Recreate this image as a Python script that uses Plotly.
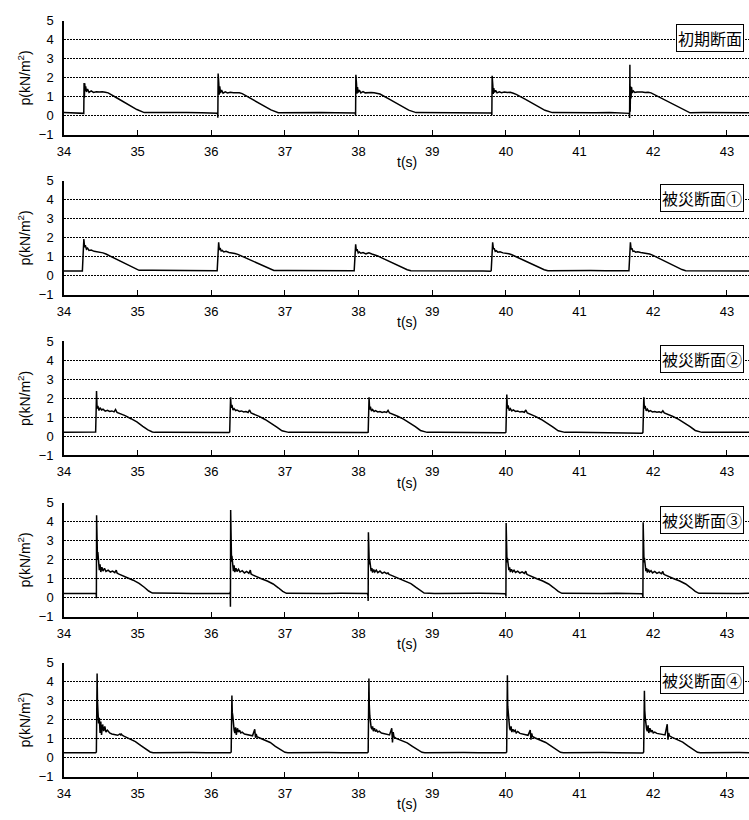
import plotly.graph_objects as go

# ---------------- data ----------------
x_range = [34.0, 43.3]
x_ticks = [34, 35, 36, 37, 38, 39, 40, 41, 42, 43]
y_ticks = [-1, 0, 1, 2, 3, 4, 5]
panel_labels = ["初期断面", "被災断面①", "被災断面②", "被災断面③", "被災断面④"]

# Panel 1 : 初期断面
p1_start = [34.0, 0.16]
p1_onsets = [34.27, 36.09, 37.96, 39.81, 41.68]
p1_rel_t = [-0.005, -0.001, 0.003, 0.007, 0.012, 0.018, 0.025, 0.035, 0.05, 0.07, 0.1, 0.13,
            0.17, 0.21, 0.25, 0.29, 0.33, 0.45, 0.6, 0.72, 0.82, 1.0, 1.2, 1.4, 1.6, 1.75]
p1_values = [
    [0.14, 0.12, 1.72, 0.95, 1.70, 1.30, 1.55, 1.25, 1.40, 1.22, 1.30, 1.22, 1.26, 1.24, 1.26, 1.23, 1.20, 0.93, 0.59, 0.32, 0.16, 0.17, 0.15, 0.16, 0.15, 0.14],
    [0.13, -0.11, 2.22, 0.30, 1.70, 1.10, 1.55, 1.20, 1.35, 1.18, 1.25, 1.20, 1.23, 1.21, 1.22, 1.20, 1.16, 0.90, 0.56, 0.30, 0.15, 0.16, 0.15, 0.17, 0.15, 0.14],
    [0.14, 0.00, 2.15, 0.40, 1.65, 1.15, 1.50, 1.22, 1.35, 1.20, 1.27, 1.20, 1.23, 1.22, 1.21, 1.19, 1.14, 0.88, 0.55, 0.29, 0.16, 0.16, 0.15, 0.17, 0.15, 0.14],
    [0.14, 0.02, 2.10, 0.50, 1.60, 1.15, 1.45, 1.22, 1.33, 1.20, 1.25, 1.21, 1.24, 1.22, 1.23, 1.18, 1.12, 0.87, 0.54, 0.28, 0.16, 0.15, 0.16, 0.15, 0.16, 0.14],
    [0.12, -0.12, 2.68, 0.20, 1.55, 0.90, 1.50, 1.20, 1.30, 1.22, 1.25, 1.23, 1.24, 1.22, 1.23, 1.20, 1.12, 0.88, 0.58, 0.34, 0.15, 0.16, 0.15, 0.16, 0.15, 0.15],
]

# Panel 2 : 被災断面①
p2_start = [34.0, 0.24]
p2_onsets = [34.25, 36.08, 37.94, 39.80, 41.67]
p2_rel_t = [-0.01, 0.0, 0.01, 0.02, 0.03, 0.04, 0.055, 0.07, 0.09, 0.12, 0.16, 0.2, 0.24,
            0.28, 0.32, 0.36, 0.45, 0.55, 0.65, 0.72, 0.77, 0.95, 1.15, 1.35, 1.55, 1.75]
p2_values = [
    [0.22, 0.25, 1.10, 1.93, 1.50, 1.60, 1.40, 1.45, 1.33, 1.35, 1.28, 1.26, 1.22, 1.20, 1.14, 1.06, 0.90, 0.70, 0.50, 0.36, 0.28, 0.28, 0.27, 0.28, 0.26, 0.25],
    [0.23, 0.26, 1.00, 1.76, 1.35, 1.45, 1.30, 1.33, 1.25, 1.28, 1.22, 1.20, 1.17, 1.12, 1.05, 0.98, 0.82, 0.62, 0.44, 0.32, 0.27, 0.27, 0.26, 0.27, 0.26, 0.24],
    [0.23, 0.26, 0.95, 1.65, 1.30, 1.40, 1.20, 1.25, 1.18, 1.22, 1.15, 1.20, 1.14, 1.10, 1.04, 0.96, 0.80, 0.60, 0.43, 0.31, 0.26, 0.26, 0.27, 0.26, 0.25, 0.24],
    [0.23, 0.26, 1.00, 1.76, 1.40, 1.45, 1.28, 1.32, 1.24, 1.26, 1.20, 1.18, 1.15, 1.10, 1.03, 0.96, 0.80, 0.60, 0.43, 0.31, 0.26, 0.27, 0.26, 0.27, 0.26, 0.24],
    [0.23, 0.26, 1.00, 1.76, 1.38, 1.45, 1.28, 1.30, 1.24, 1.26, 1.22, 1.20, 1.18, 1.14, 1.08, 1.00, 0.84, 0.64, 0.45, 0.32, 0.26, 0.26, 0.27, 0.26, 0.26, 0.25],
]

# Panel 3 : 被災断面②
p3_start = [34.0, 0.20]
p3_onsets = [34.43, 36.25, 38.13, 40.00, 41.86]
p3_rel_t = [-0.01, 0.0, 0.006, 0.012, 0.02, 0.03, 0.045, 0.06, 0.08, 0.1, 0.13, 0.16, 0.19, 0.22,
            0.25, 0.27, 0.29, 0.33, 0.4, 0.48, 0.56, 0.64, 0.71, 0.77, 0.8, 0.95, 1.15, 1.35, 1.55, 1.75]
p3_values = [
    [0.20, 0.22, 1.20, 2.38, 1.45, 1.60, 1.35, 1.50, 1.38, 1.42, 1.32, 1.36, 1.30, 1.33, 1.28, 1.40, 1.25, 1.20, 1.08, 0.92, 0.75, 0.52, 0.33, 0.22, 0.20, 0.21, 0.20, 0.21, 0.20, 0.20],
    [0.19, 0.22, 1.10, 2.05, 1.50, 1.65, 1.38, 1.45, 1.35, 1.38, 1.30, 1.33, 1.28, 1.30, 1.25, 1.38, 1.22, 1.16, 1.04, 0.88, 0.70, 0.48, 0.28, 0.20, 0.20, 0.21, 0.20, 0.21, 0.20, 0.19],
    [0.19, 0.21, 1.00, 2.05, 1.40, 1.55, 1.32, 1.40, 1.30, 1.35, 1.28, 1.30, 1.25, 1.28, 1.25, 1.36, 1.22, 1.17, 1.05, 0.90, 0.72, 0.50, 0.30, 0.21, 0.20, 0.21, 0.20, 0.20, 0.21, 0.19],
    [0.18, 0.21, 1.10, 2.20, 1.45, 1.62, 1.35, 1.45, 1.33, 1.38, 1.30, 1.33, 1.27, 1.30, 1.26, 1.38, 1.22, 1.16, 1.04, 0.88, 0.70, 0.48, 0.28, 0.20, 0.20, 0.21, 0.20, 0.21, 0.20, 0.19],
    [0.16, 0.20, 1.05, 2.05, 1.45, 1.60, 1.33, 1.42, 1.30, 1.35, 1.28, 1.30, 1.26, 1.28, 1.24, 1.34, 1.22, 1.17, 1.05, 0.90, 0.72, 0.50, 0.30, 0.21, 0.20, 0.21, 0.20, 0.21, 0.20, 0.20],
]

# Panel 4 : 被災断面③
p4_start = [34.0, 0.22]
p4_onsets = [34.44, 36.26, 38.13, 40.00, 41.86]
p4_rel_t = [-0.01, -0.002, 0.0, 0.003, 0.006, 0.01, 0.015, 0.02, 0.03, 0.04, 0.05, 0.06, 0.075, 0.09,
            0.11, 0.13, 0.16, 0.19, 0.22, 0.25, 0.27, 0.28, 0.3, 0.35, 0.42, 0.5, 0.58, 0.65, 0.71,
            0.76, 0.9, 1.1, 1.3, 1.5, 1.75]
p4_values = [
    [0.22, 0.18, -0.03, 4.34, 2.60, 3.35, 2.00, 2.40, 1.70, 1.45, 1.75, 1.35, 1.60, 1.40, 1.55, 1.38, 1.45, 1.35, 1.40, 1.32, 1.45, 1.30, 1.25, 1.15, 1.05, 0.92, 0.75, 0.55, 0.35, 0.24, 0.22, 0.23, 0.22, 0.23, 0.22],
    [0.22, 0.30, -0.48, 4.62, 2.40, 3.00, 1.90, 2.20, 1.60, 1.40, 1.70, 1.35, 1.55, 1.38, 1.50, 1.35, 1.42, 1.30, 1.38, 1.28, 1.45, 1.25, 1.20, 1.10, 1.00, 0.88, 0.72, 0.52, 0.33, 0.23, 0.22, 0.23, 0.22, 0.23, 0.22],
    [0.22, 0.10, -0.17, 3.45, 2.10, 2.60, 1.75, 2.00, 1.60, 1.40, 1.55, 1.32, 1.48, 1.35, 1.45, 1.32, 1.40, 1.28, 1.35, 1.27, 1.30, 1.24, 1.20, 1.12, 1.02, 0.90, 0.74, 0.54, 0.35, 0.24, 0.22, 0.23, 0.22, 0.23, 0.22],
    [0.21, 0.15, 0.05, 3.93, 2.20, 2.80, 1.85, 2.10, 1.65, 1.45, 1.60, 1.35, 1.50, 1.36, 1.45, 1.33, 1.40, 1.30, 1.36, 1.28, 1.40, 1.25, 1.20, 1.10, 1.00, 0.88, 0.72, 0.52, 0.33, 0.23, 0.22, 0.23, 0.22, 0.23, 0.22],
    [0.20, 0.12, -0.02, 3.97, 2.30, 2.90, 1.85, 2.10, 1.60, 1.40, 1.55, 1.32, 1.48, 1.35, 1.42, 1.30, 1.38, 1.28, 1.35, 1.26, 1.38, 1.25, 1.20, 1.10, 1.00, 0.88, 0.72, 0.52, 0.33, 0.23, 0.22, 0.23, 0.22, 0.23, 0.22],
]

# Panel 5 : 被災断面④
p5_start = [34.0, 0.26]
p5_onsets = [34.44, 36.27, 38.13, 40.01, 41.87]
p5_rel_t = [-0.01, 0.0, 0.005, 0.01, 0.015, 0.022, 0.03, 0.04, 0.05, 0.06, 0.07, 0.085, 0.1, 0.115,
            0.13, 0.15, 0.18, 0.21, 0.25, 0.29, 0.32, 0.33, 0.34, 0.35, 0.38, 0.45, 0.53, 0.6, 0.67,
            0.73, 0.77, 0.9, 1.1, 1.3, 1.5, 1.75]
p5_values = [
    [0.26, 0.30, 1.70, 4.43, 3.00, 2.40, 1.80, 2.10, 1.30, 1.90, 1.20, 1.75, 1.40, 1.65, 1.35, 1.45, 1.30, 1.25, 1.22, 1.18, 1.25, 1.20, 1.24, 1.18, 1.12, 1.00, 0.85, 0.65, 0.45, 0.30, 0.26, 0.27, 0.26, 0.27, 0.26, 0.26],
    [0.26, 0.30, 1.50, 3.28, 2.40, 2.20, 1.70, 1.45, 1.30, 1.60, 1.20, 1.55, 1.35, 1.45, 1.30, 1.35, 1.25, 1.22, 1.20, 1.15, 1.50, 1.05, 1.25, 1.10, 1.05, 0.95, 0.80, 0.60, 0.42, 0.28, 0.26, 0.27, 0.26, 0.27, 0.26, 0.25],
    [0.26, 0.30, 1.60, 4.17, 2.80, 2.20, 1.75, 1.60, 1.50, 1.65, 1.40, 1.55, 1.38, 1.45, 1.35, 1.40, 1.30, 1.28, 1.25, 1.20, 1.55, 0.80, 1.35, 1.10, 1.02, 0.92, 0.78, 0.60, 0.42, 0.28, 0.26, 0.27, 0.26, 0.27, 0.26, 0.25],
    [0.26, 0.30, 1.70, 4.34, 2.70, 2.20, 1.75, 1.55, 1.45, 1.65, 1.35, 1.50, 1.38, 1.45, 1.30, 1.38, 1.28, 1.25, 1.22, 1.18, 1.45, 0.95, 1.28, 1.12, 1.05, 0.95, 0.80, 0.62, 0.42, 0.28, 0.26, 0.27, 0.26, 0.27, 0.26, 0.25],
    [0.25, 0.30, 1.50, 3.52, 2.50, 2.10, 1.70, 1.50, 1.40, 1.70, 1.30, 1.55, 1.35, 1.45, 1.30, 1.35, 1.28, 1.25, 1.22, 1.20, 1.76, 0.95, 1.30, 1.15, 1.08, 0.97, 0.82, 0.62, 0.42, 0.28, 0.26, 0.27, 0.26, 0.27, 0.26, 0.26],
]

panels = [
    (p1_start, p1_onsets, p1_rel_t, p1_values),
    (p2_start, p2_onsets, p2_rel_t, p2_values),
    (p3_start, p3_onsets, p3_rel_t, p3_values),
    (p4_start, p4_onsets, p4_rel_t, p4_values),
    (p5_start, p5_onsets, p5_rel_t, p5_values),
]

# ---------------- layout geometry ----------------
W, H = 749, 820
panel_top_px = [14, 177, 340.5, 505, 668]
panel_h_px = 116
left_px = 57.5

fig = go.Figure()
num_font = dict(family="Liberation Sans, Arial, sans-serif", size=13, color="black")

for i, (start, onsets, rel_t, vals) in enumerate(panels):
    t = [start[0]]
    p = [start[1]]
    for onset, pv in zip(onsets, vals):
        for rt, v in zip(rel_t, pv):
            t.append(round(onset + rt, 4))
            p.append(v)
    n = i + 1
    xa = "x" if n == 1 else f"x{n}"
    ya = "y" if n == 1 else f"y{n}"
    fig.add_trace(go.Scatter(x=t, y=p, mode="lines", xaxis=xa, yaxis=ya,
                             line=dict(color="black", width=1.5), showlegend=False,
                             hoverinfo="skip"))
    top = panel_top_px[i]
    bot = top + panel_h_px
    dom_y = [1 - bot / H, 1 - top / H]
    xkey = "xaxis" if n == 1 else f"xaxis{n}"
    ykey = "yaxis" if n == 1 else f"yaxis{n}"
    fig.layout[xkey] = dict(
        domain=[left_px / W, 1.0], range=x_range, anchor=ya,
        tickvals=x_ticks, ticks="inside", ticklen=5, tickwidth=1, tickcolor="black",
        showline=True, linecolor="black", linewidth=1.5, showgrid=False, zeroline=False,
        tickfont=num_font, ticklabelstandoff=4, fixedrange=True,
    )
    fig.layout[ykey] = dict(
        domain=dom_y, range=[-1, 5], anchor=xa,
        tickvals=y_ticks, ticks="", showline=True, linecolor="black", linewidth=1.5,
        showgrid=True, gridcolor="black", gridwidth=1, griddash="2px,1px",
        zeroline=False, tickfont=num_font, ticklabelstandoff=6, fixedrange=True,
    )
    # y-axis title
    fig.add_annotation(text="p(kN/m<sup>2</sup>)", textangle=-90, showarrow=False,
                       xref="paper", yref="paper", x=17 / W, y=1 - (top + panel_h_px / 2) / H,
                       xanchor="center", yanchor="middle",
                       font=dict(family="Liberation Sans, Arial, sans-serif", size=14, color="black"))
    # x-axis title
    fig.add_annotation(text="t(s)", showarrow=False, xref="paper", yref="paper",
                       x=404 / W, y=1 - (bot + 28) / H, xanchor="center", yanchor="middle",
                       font=dict(family="Liberation Sans, Arial, sans-serif", size=14, color="black"))
    # panel label box
    fig.add_annotation(text=panel_labels[i], showarrow=False, xref="paper", yref=ya,
                       x=744 / W, y=4.08, xanchor="right", yanchor="middle",
                       bgcolor="white", bordercolor="black", borderwidth=1, borderpad=1,
                       font=dict(family="Noto Sans CJK JP, sans-serif", size=16, color="black"))

fig.update_layout(width=W, height=H, margin=dict(l=0, r=0, t=0, b=0),
                  paper_bgcolor="white", plot_bgcolor="white")
fig.write_html("out.html", config={"displayModeBar": False},
               post_script="document.body.style.margin='0';document.body.style.overflow='hidden';")
